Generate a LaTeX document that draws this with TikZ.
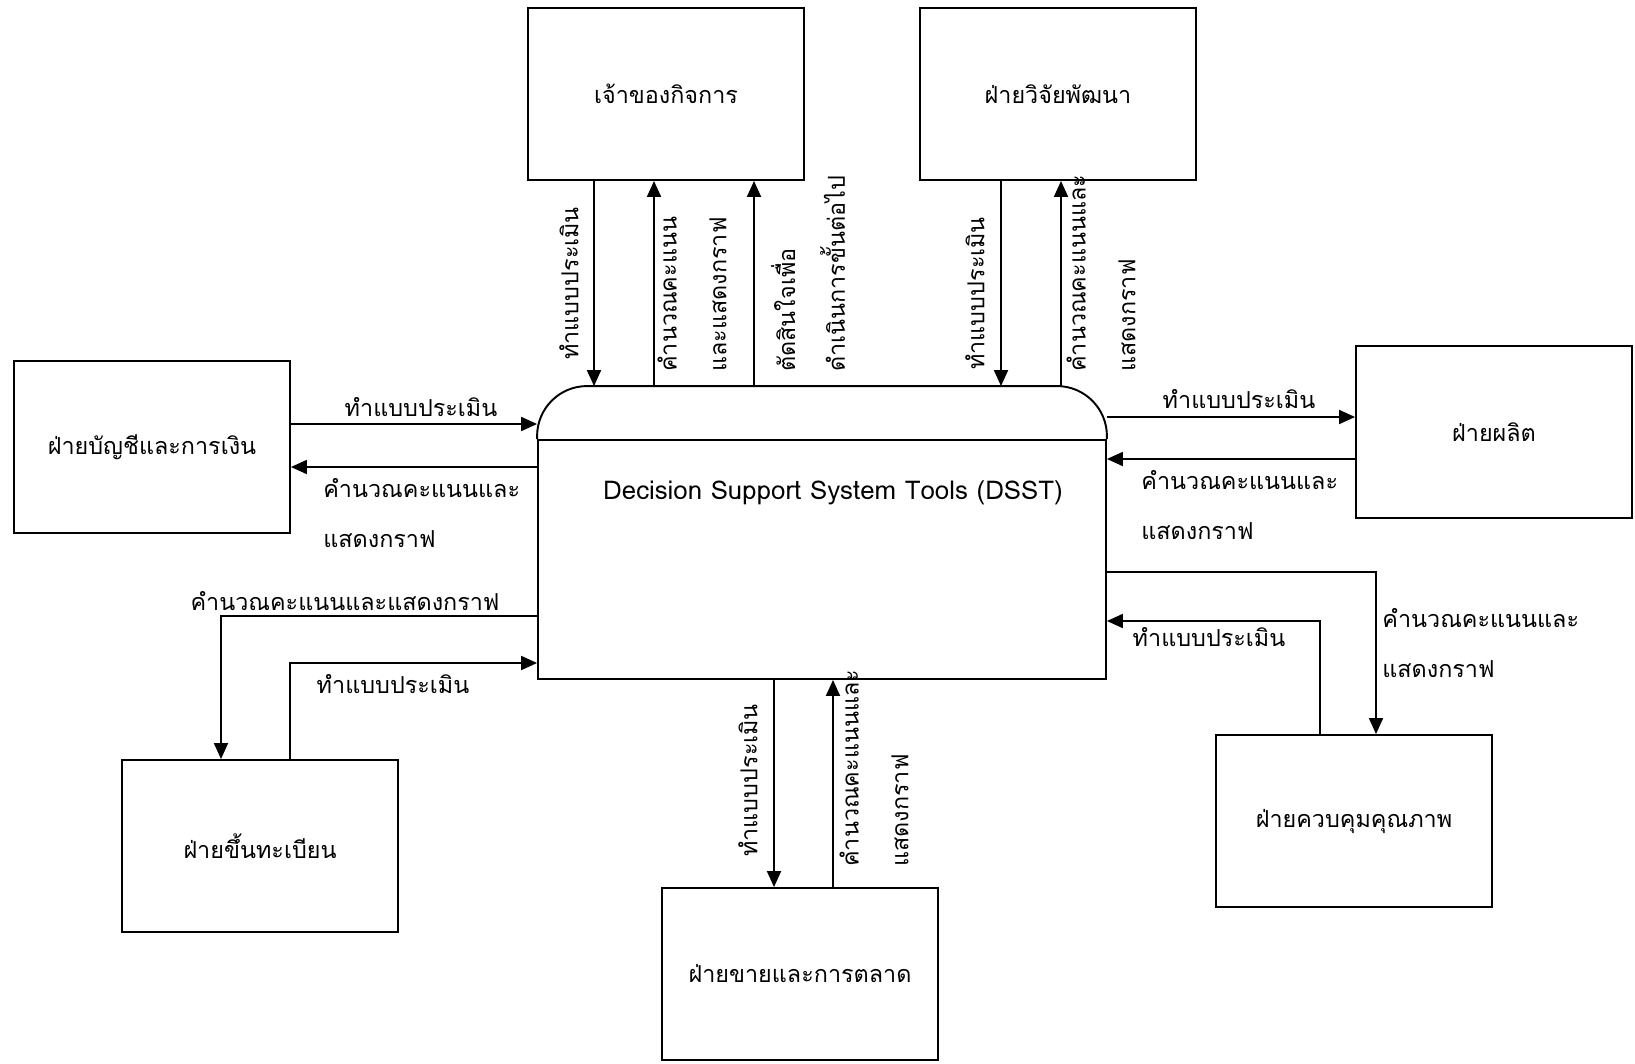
\documentclass[tikz,border=0pt]{standalone}
\usepackage{fontspec}
\newfontfamily\thaifont[Script=Thai]{Loma}
\usetikzlibrary{positioning, arrows.meta, calc}

\begin{document}
\begin{tikzpicture}[
  x=0.02cm, y=-0.02cm,
  entity/.style={draw, line width=1.1pt, minimum width=5.52cm, minimum height=3.44cm,
                 font=\thaifont\fontsize{13.3}{28.4}\selectfont, inner sep=2pt},
  flow/.style={line width=1.1pt, -{Triangle[length=0.32cm, width=0.28cm]}},
  lbl/.style={font=\thaifont\fontsize{13.3}{28.4}\selectfont, inner sep=0pt, align=left},
  vlbl/.style={lbl, rotate=90, anchor=west},
]
  \useasboundingbox (0,0) rectangle (1635,1064);

  % external entities
  \node[entity] (owner) at (666, 94) {เจ้าของกิจการ};
  \node[entity] (rnd) at (1058, 94) {ฝ่ายวิจัยพัฒนา};
  \node[entity] (acct) at (152, 447) {ฝ่ายบัญชีและการเงิน};
  \node[entity] (prod) at (1494, 432) {ฝ่ายผลิต};
  \node[entity] (reg) at (260, 846) {ฝ่ายขึ้นทะเบียน};
  \node[entity] (sales) at (800, 974) {ฝ่ายขายและการตลาด};
  \node[entity] (qc) at (1354, 821) {ฝ่ายควบคุมคุณภาพ};

  % process
  \node[draw, line width=1.1pt, minimum width=11.36cm, minimum height=4.78cm] (dsst) at (822, 559.5) {};
  \draw[line width=1.1pt, rounded corners=1.0cm] (dsst.north west) -- ($(dsst.north west)+(0,-53)$)
    -- ($(dsst.north east)+(0,-53)$) -- (dsst.north east);
  \coordinate (cap) at ($(dsst.north)+(0,-53)$);
  \node[lbl, font=\thaifont\fontsize{14.7}{28.4}\selectfont] (title) at (833, 493) {Decision Support System Tools (DSST)};

  % owner
  \coordinate (o1) at ($(owner.south)+(-72,0)$);
  \coordinate (o2) at ($(owner.south)+(-12,0)$);
  \coordinate (o3) at ($(owner.south)+(88,0)$);
  \draw[flow] (o1) -- (o1 |- cap);
  \draw[flow] (o2 |- cap) -- (o2);
  \draw[flow] (o3 |- cap) -- (o3);
  \node[vlbl] at (569, 360) {ทำแบบประเมิน};
  \node[vlbl] at (692, 372) {คำนวณคะแนน\\และแสดงกราฟ};
  \node[vlbl] at (808, 372) {ตัดสินใจเพื่อ\\ดำเนินการขั้นต่อไป};

  % r&d
  \coordinate (r1) at ($(rnd.south)+(-57,0)$);
  \coordinate (r2) at ($(rnd.south)+(3,0)$);
  \draw[flow] (r1) -- (r1 |- cap);
  \draw[flow] (r2 |- cap) -- (r2);
  \node[vlbl] at (975, 370) {ทำแบบประเมิน};
  \node[vlbl] at (1101, 372) {คำนวณคะแนนและ\\แสดงกราฟ};

  % accounting
  \coordinate (a1) at ($(acct.east)+(0,-23)$);
  \coordinate (a2) at ($(acct.east)+(0,20)$);
  \draw[flow] (a1) -- (a1 -| dsst.west);
  \draw[flow] (a2 -| dsst.west) -- (a2);
  \node[lbl] at (421, 407) {ทำแบบประเมิน};
  \node[lbl, anchor=west] at (323, 513) {คำนวณคะแนนและ\\แสดงกราฟ};

  % production
  \coordinate (p1) at ($(prod.west)+(0,-15)$);
  \coordinate (p2) at ($(prod.west)+(0,27)$);
  \draw[flow] (p1 -| dsst.east) -- (p1);
  \draw[flow] (p2) -- (p2 -| dsst.east);
  \node[lbl] at (1239, 399) {ทำแบบประเมิน};
  \node[lbl, anchor=west] at (1141, 505) {คำนวณคะแนนและ\\แสดงกราฟ};

  % registration
  \draw[flow] ($(dsst.west)+(0,56.5)$) -| ($(reg.north)+(-39,0)$);
  \draw[flow] ($(reg.north)+(30,0)$) |- ($(dsst.west)+(0,103.5)$);
  \node[lbl] at (345, 601) {คำนวณคะแนนและแสดงกราฟ};
  \node[lbl] at (393, 684) {ทำแบบประเมิน};

  % sales
  \coordinate (s1) at ($(sales.north)+(-26,0)$);
  \coordinate (s2) at ($(sales.north)+(33,0)$);
  \draw[flow] (s1 |- dsst.south) -- (s1);
  \draw[flow] (s2) -- (s2 |- dsst.south);
  \node[vlbl] at (748, 857) {ทำแบบประเมิน};
  \node[vlbl] at (874, 867) {คำนวณคะแนนและ\\แสดงกราฟ};

  % quality control
  \draw[flow] ($(dsst.east)+(0,12.5)$) -| ($(qc.north)+(22,0)$);
  \draw[flow] ($(qc.north)+(-34,0)$) |- ($(dsst.east)+(0,61.5)$);
  \node[lbl] at (1209, 637) {ทำแบบประเมิน};
  \node[lbl, anchor=west] at (1382, 643) {คำนวณคะแนนและ\\แสดงกราฟ};
\end{tikzpicture}
\end{document}
